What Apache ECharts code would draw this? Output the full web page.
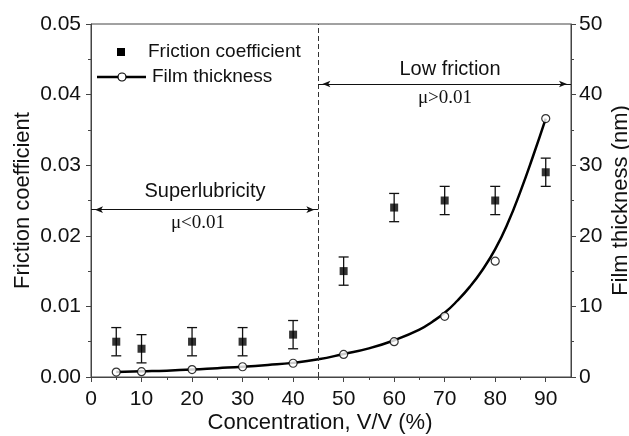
<!DOCTYPE html>
<html>
<head>
<meta charset="utf-8">
<script src="https://cdn.jsdelivr.net/npm/echarts@6/dist/echarts.min.js"></script>
<style>
  html, body { margin: 0; padding: 0; background: #fff; }
  #chart-container { width: 629px; height: 436px; }
</style>
</head>
<body>
<div id="chart-container"></div>
<script>
var dom = document.getElementById("chart-container");
var myChart = echarts.init(dom, null, { renderer: "canvas" });

// concentration (%) of measured samples
const conc = [5, 10, 20, 30, 40, 50, 60, 70, 80, 90];
// friction coefficient and its error (+/-)
const friction = [0.005, 0.004, 0.005, 0.005, 0.006, 0.015, 0.024, 0.025, 0.025, 0.029];
const frictionErr = [0.002, 0.002, 0.002, 0.002, 0.002, 0.002, 0.002, 0.002, 0.002, 0.002];
// measured film thickness (nm)
const thickness = [0.7, 0.75, 1.05, 1.45, 1.95, 3.2, 5.0, 8.6, 16.4, 36.6];
// fitted curve
const fitX = [5, 10, 15, 20, 25, 30, 35, 40, 45, 50, 55, 60, 65, 67.5, 70, 72.5, 75, 77.5, 80, 82.5, 85, 87.5, 90];
const fitY = [0.7, 0.8, 0.9, 1.05, 1.25, 1.45, 1.7, 2.0, 2.5, 3.25, 4.05, 5.2, 6.7, 7.8, 9.1, 10.8, 12.8, 15.2, 18.1, 21.8, 26.3, 31.3, 36.6];

const xMajor = [0, 10, 20, 30, 40, 50, 60, 70, 80, 90];
const xMinor = [5, 15, 25, 35, 45, 55, 65, 75, 85];

const boundary = 45;      // dashed divider
const superArrowY = 0.0237;
const lowArrowY = 0.0415;

const FONT = "'Liberation Sans', Arial, sans-serif";
const SERIF = "'Liberation Serif', 'Times New Roman', serif";
const AX = "#444";

const errData = conc.map((c, i) => [c, friction[i] - frictionErr[i], friction[i] + frictionErr[i]]);

function renderErr(params, api) {
  const x = api.value(0);
  const lo = api.coord([x, api.value(1)]);
  const hi = api.coord([x, api.value(2)]);
  const w = 5;
  const st = { stroke: "#111", lineWidth: 1.3 };
  return {
    type: "group",
    children: [
      { type: "line", shape: { x1: lo[0], y1: lo[1], x2: hi[0], y2: hi[1] }, style: st },
      { type: "line", shape: { x1: lo[0] - w, y1: lo[1], x2: lo[0] + w, y2: lo[1] }, style: st },
      { type: "line", shape: { x1: hi[0] - w, y1: hi[1], x2: hi[0] + w, y2: hi[1] }, style: st }
    ]
  };
}

var option = {
  animation: false,
  backgroundColor: "#fff",
  textStyle: { fontFamily: FONT },
  grid: {
    left: 91, right: 58, top: 24, bottom: 59,
    containLabel: false, outerBoundsMode: "none",
    show: true, borderColor: AX, borderWidth: 1, backgroundColor: "transparent"
  },
  xAxis: [
    {
      type: "value", min: 0, max: 95, interval: 10,
      name: "Concentration, V/V (%)", nameLocation: "middle", nameGap: 35,
      nameMoveOverlap: false,
      nameTextStyle: { fontSize: 22, color: "#111", fontFamily: FONT, padding: [0, 22, 0, 0] },
      axisLine: { show: true, onZero: false, lineStyle: { color: AX, width: 1 } },
      axisTick: { show: true, inside: false, length: 5, customValues: xMajor, lineStyle: { color: AX } },
      axisLabel: { fontSize: 21, color: "#111", margin: 12, customValues: xMajor, fontFamily: FONT },
      splitLine: { show: false }
    },
    {
      type: "value", min: 0, max: 95, position: "bottom",
      axisLine: { show: false },
      axisTick: { show: true, inside: false, length: 3, customValues: xMinor, lineStyle: { color: AX } },
      axisLabel: { show: false },
      splitLine: { show: false }
    }
  ],
  yAxis: [
    {
      type: "value", min: 0, max: 0.05, interval: 0.01, position: "left",
      name: "Friction coefficient", nameLocation: "middle", nameGap: 57, nameRotate: 90,
      nameMoveOverlap: false,
      nameTextStyle: { fontSize: 22, color: "#111", fontFamily: FONT },
      axisLine: { show: true, onZero: false, lineStyle: { color: AX, width: 1 } },
      axisTick: { show: true, inside: false, length: 5, lineStyle: { color: AX } },
      minorTick: { show: true, splitNumber: 2, length: 3, lineStyle: { color: AX } },
      axisLabel: { fontSize: 21, color: "#111", margin: 10, fontFamily: FONT,
        formatter: (v) => v.toFixed(2) },
      splitLine: { show: false }
    },
    {
      type: "value", min: 0, max: 50, interval: 10, position: "right",
      name: "Film thickness (nm)", nameLocation: "middle", nameGap: 39, nameRotate: 90,
      nameMoveOverlap: false,
      nameTextStyle: { fontSize: 22, color: "#111", fontFamily: FONT },
      axisLine: { show: true, onZero: false, lineStyle: { color: AX, width: 1 } },
      axisTick: { show: true, inside: false, length: 5, lineStyle: { color: AX } },
      minorTick: { show: true, splitNumber: 2, length: 3, lineStyle: { color: AX } },
      axisLabel: { fontSize: 21, color: "#111", margin: 8, fontFamily: FONT },
      splitLine: { show: false }
    }
  ],
  series: [
    {
      name: "Fit", type: "line", xAxisIndex: 0, yAxisIndex: 1,
      data: fitX.map((x, i) => [x, fitY[i]]),
      smooth: 0.5, showSymbol: false, symbol: "none",
      lineStyle: { color: "#000", width: 2.5 },
      z: 3,
      markLine: {
        silent: true, symbol: "none", animation: false,
        label: { show: false },
        lineStyle: { color: "#333", width: 1, type: [5, 3] },
        data: [{ xAxis: boundary }]
      }
    },
    {
      name: "Film thickness", type: "scatter", xAxisIndex: 0, yAxisIndex: 1,
      data: conc.map((c, i) => [c, thickness[i]]),
      symbol: "circle", symbolSize: 8,
      itemStyle: { color: "#fff", borderColor: "#000", borderWidth: 1.2 },
      z: 4
    },
    {
      name: "err", type: "custom", xAxisIndex: 0, yAxisIndex: 0,
      data: errData, renderItem: renderErr,
      encode: { x: 0, y: [1, 2] }, z: 5
    },
    {
      name: "Friction coefficient", type: "scatter", xAxisIndex: 0, yAxisIndex: 0,
      data: conc.map((c, i) => [c, friction[i]]),
      symbol: "rect", symbolSize: 8,
      itemStyle: { color: "#000" },
      z: 6,
      markLine: {
        silent: true, animation: false,
        symbol: ["arrow", "arrow"], symbolSize: [5, 8], symbolOffset: [[0, 4], [0, 4]],
        label: { show: false },
        lineStyle: { color: "#111", width: 1.2, type: "solid" },
        data: [
          [{ coord: [0, superArrowY] }, { coord: [boundary, superArrowY] }],
          [{ coord: [boundary, lowArrowY] }, { coord: [95, lowArrowY] }]
        ]
      }
    }
  ],
  graphic: [
    // legend
    { type: "rect", shape: { x: 117, y: 48, width: 8, height: 8 }, style: { fill: "#000" } },
    { type: "text", left: 148, top: 42, style: { text: "Friction coefficient", font: "19px " + FONT, fill: "#111" } },
    { type: "line", shape: { x1: 97, y1: 77, x2: 146, y2: 77 }, style: { stroke: "#000", lineWidth: 2.5 } },
    { type: "circle", shape: { cx: 122, cy: 77, r: 4 }, style: { fill: "#fff", stroke: "#000", lineWidth: 1.2 } },
    { type: "text", left: 152, top: 67, style: { text: "Film thickness", font: "19px " + FONT, fill: "#111" } },
    // annotations
    { type: "text", x: 205, y: 191, style: { text: "Superlubricity", font: "20px " + FONT, fill: "#111", align: "center", verticalAlign: "middle" } },
    { type: "text", x: 198, y: 223, style: { text: "μ<0.01", font: "19px " + SERIF, fill: "#111", align: "center", verticalAlign: "middle" } },
    { type: "text", x: 450, y: 69, style: { text: "Low friction", font: "20px " + FONT, fill: "#111", align: "center", verticalAlign: "middle" } },
    { type: "text", x: 445, y: 98, style: { text: "μ>0.01", font: "19px " + SERIF, fill: "#111", align: "center", verticalAlign: "middle" } }
  ]
};

myChart.setOption(option);
window.addEventListener("resize", myChart.resize);
</script>
</body>
</html>
